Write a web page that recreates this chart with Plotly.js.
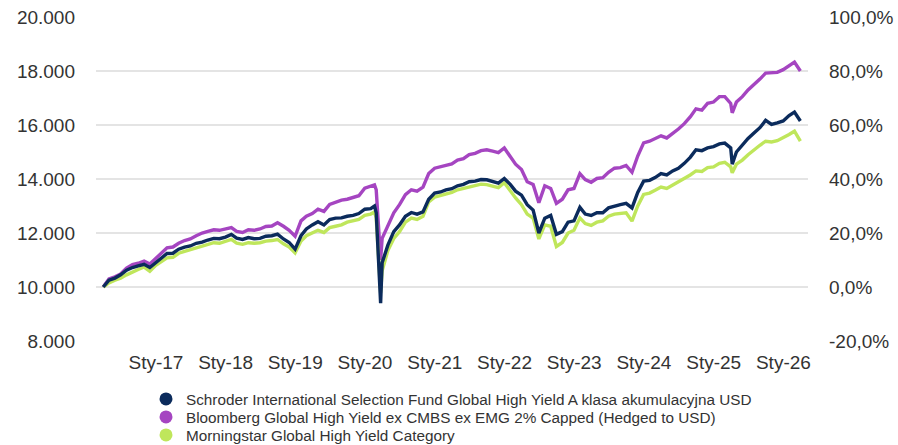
<!DOCTYPE html>
<html>
<head>
<meta charset="utf-8">
<script src="https://cdn.plot.ly/plotly-3.0.1.min.js"></script>
<style>
html,body{margin:0;padding:0;background:#ffffff;}
#chart{width:898px;height:445px;}
</style>
</head>
<body>
<div id="chart"></div>
<script>
// ---------- DATA ----------
const dates = [
  '2016-03-31','2016-04-30','2016-05-31','2016-06-30','2016-07-31','2016-08-31','2016-09-30','2016-10-31','2016-11-30','2016-12-31',
  '2017-01-31','2017-02-28','2017-03-31','2017-04-30','2017-05-31','2017-06-30','2017-07-31','2017-08-31','2017-09-30','2017-10-31','2017-11-30','2017-12-31',
  '2018-01-31','2018-02-28','2018-03-31','2018-04-30','2018-05-31','2018-06-30','2018-07-31','2018-08-31','2018-09-30','2018-10-31','2018-11-30','2018-12-31',
  '2019-01-31','2019-02-28','2019-03-31','2019-04-30','2019-05-31','2019-06-30','2019-07-31','2019-08-31','2019-09-30','2019-10-31','2019-11-30','2019-12-31',
  '2020-01-31','2020-02-20','2020-02-29','2020-03-23','2020-03-31','2020-04-30','2020-05-31','2020-06-30','2020-07-31','2020-08-31','2020-09-30','2020-10-31','2020-11-30','2020-12-31',
  '2021-01-31','2021-02-28','2021-03-31','2021-04-30','2021-05-31','2021-06-30','2021-07-31','2021-08-31','2021-09-30','2021-10-31','2021-11-30','2021-12-31',
  '2022-01-31','2022-02-28','2022-03-31','2022-04-30','2022-05-31','2022-06-30','2022-07-31','2022-08-31','2022-09-30','2022-10-31','2022-11-30','2022-12-31',
  '2023-01-31','2023-02-28','2023-03-31','2023-04-30','2023-05-31','2023-06-30','2023-07-31','2023-08-31','2023-09-30','2023-10-31','2023-11-30','2023-12-31',
  '2024-01-31','2024-02-29','2024-03-31','2024-04-30','2024-05-31','2024-06-30','2024-07-31','2024-08-31','2024-09-30','2024-10-31','2024-11-30','2024-12-31',
  '2025-01-31','2025-02-28','2025-03-31','2025-04-08','2025-04-30','2025-05-31','2025-06-30','2025-07-31','2025-08-31','2025-09-30','2025-10-31','2025-11-30','2025-12-31',
  '2026-01-31','2026-02-28','2026-03-31'
];

const schroder = [
  10000,10250,10330,10450,10620,10720,10780,10840,10720,10900,
  11050,11240,11250,11400,11480,11520,11620,11660,11740,11800,11790,11850,
  11950,11810,11760,11830,11790,11800,11880,11900,11960,11780,11650,11400,
  11900,12150,12300,12420,12300,12500,12550,12560,12620,12650,12720,12880,
  12900,13000,12750,9400,10900,11550,12050,12300,12620,12760,12700,12780,13250,13480,
  13520,13600,13640,13750,13800,13900,13920,13980,13970,13920,13850,14020,
  13800,13550,13400,13050,12850,12000,12550,12650,11950,12050,12400,12450,
  12950,12700,12650,12750,12750,12930,13000,13050,13100,12930,13500,13920,
  13950,14050,14200,14150,14300,14400,14580,14800,15080,15050,15150,15200,
  15300,15330,15150,14550,15000,15250,15500,15700,15900,16170,16020,16080,16150,
  16350,16480,16150
];

const bloomberg = [
  10000,10300,10380,10480,10700,10830,10880,10960,10850,11050,
  11250,11450,11480,11620,11720,11780,11900,12000,12060,12120,12100,12150,
  12200,12060,12020,12120,12100,12150,12240,12260,12380,12250,12100,11880,
  12450,12620,12720,12880,12800,13060,13150,13220,13250,13320,13380,13660,
  13720,13780,13600,11000,11800,12300,12750,13050,13420,13600,13550,13700,14200,14400,
  14450,14480,14560,14700,14750,14900,14950,15050,15080,15030,14980,15150,
  14850,14550,14350,13900,13800,13120,13750,13650,13100,13250,13600,13650,
  14200,13980,13880,14020,14050,14250,14400,14420,14500,14250,14850,15340,
  15400,15500,15600,15520,15680,15850,16050,16300,16600,16550,16800,16850,
  17050,17050,16800,16450,16850,17050,17300,17480,17700,17920,17930,17950,18050,
  18200,18330,18000
];

const morningstar = [
  10000,10150,10250,10330,10450,10560,10650,10740,10580,10800,
  10960,11080,11100,11250,11320,11380,11470,11510,11580,11640,11620,11680,
  11760,11620,11580,11640,11620,11640,11700,11720,11760,11600,11480,11260,
  11700,11900,12000,12100,12020,12200,12250,12300,12400,12440,12500,12650,
  12700,12780,12550,9790,10600,11350,11800,12050,12400,12550,12500,12620,13150,13330,
  13380,13450,13500,13600,13650,13730,13760,13810,13790,13730,13680,13860,
  13550,13300,13050,12700,12550,11780,12300,12250,11500,11650,12000,12100,
  12560,12350,12280,12400,12450,12620,12700,12720,12750,12440,13000,13430,
  13480,13580,13700,13650,13780,13880,14000,14150,14300,14280,14420,14450,
  14580,14620,14450,14230,14550,14700,14900,15090,15250,15400,15370,15420,15520,
  15650,15770,15400
];

const seriesNames = [
  'Schroder International Selection Fund Global High Yield A klasa akumulacyjna USD',
  'Bloomberg Global High Yield ex CMBS ex EMG 2% Capped (Hedged to USD)',
  'Morningstar Global High Yield Category'
];

const xTickDates = ['2017-01-01','2018-01-01','2019-01-01','2020-01-01','2021-01-01','2022-01-01','2023-01-01','2024-01-01','2025-01-01','2026-01-01'];
const xTickLabels = ['Sty-17','Sty-18','Sty-19','Sty-20','Sty-21','Sty-22','Sty-23','Sty-24','Sty-25','Sty-26'];
const leftTicks = [8000,10000,12000,14000,16000,18000,20000];
const leftTickLabels = ['8.000','10.000','12.000','14.000','16.000','18.000','20.000'];
const rightTicks = [-20,0,20,40,60,80,100];
const rightTickLabels = ['-20,0%','0,0%','20,0%','40,0%','60,0%','80,0%','100,0%'];
const startValue = 10000;

// ---------- STYLE ----------
const colors = ['#0b2b5c','#a545c1','#bfe65b'];
const seriesValues = [schroder, bloomberg, morningstar];
const drawOrder = [1, 2, 0];
const FONT = '"Liberation Sans", Arial, sans-serif';
const TXT = '#333333';
const legendIds = ['legend','legend2','legend3'];
const legendRowY = [399, 417, 435]; // pixel rows of the legend entries

const traces = [];
drawOrder.forEach(function(i){
  traces.push({
    type:'scatter', mode:'lines', x:dates, y:seriesValues[i],
    line:{color:colors[i], width:3.4}, showlegend:false, hoverinfo:'skip'
  });
});
// invisible copy on the percentage axis (drives the right-hand axis)
traces.push({
  type:'scatter', mode:'lines', x:dates,
  y:schroder.map(function(v){ return (v / startValue - 1) * 100; }),
  yaxis:'y2', line:{width:0, color:'rgba(0,0,0,0)'}, opacity:0,
  showlegend:false, hoverinfo:'skip'
});
seriesNames.forEach(function(n, i){
  traces.push({
    type:'scatter', mode:'markers', x:[null], y:[null], name:n,
    legend:legendIds[i],
    marker:{color:colors[i], size:13, symbol:'circle'}, showlegend:true, hoverinfo:'skip'
  });
});

const layout = {
  width:898, height:445,
  margin:{l:96, r:90, t:17, b:104, pad:0, autoexpand:false},
  paper_bgcolor:'#ffffff', plot_bgcolor:'#ffffff',
  font:{family:FONT, color:TXT, size:19},
  showlegend:true,
  xaxis:{
    type:'date', range:['2016-02-22','2026-05-10'],
    tickmode:'array', tickvals:xTickDates, ticktext:xTickLabels,
    showgrid:false, zeroline:false, showline:false, ticks:'',
    tickfont:{family:FONT, size:19, color:TXT}, ticklabelstandoff:8, fixedrange:true
  },
  yaxis:{
    range:[8000,20000], tickmode:'array', tickvals:leftTicks, ticktext:leftTickLabels,
    showgrid:true, gridcolor:'#e4e4e4', gridwidth:2, zeroline:false, showline:false, ticks:'',
    tickfont:{family:FONT, size:19, color:TXT}, ticklabelstandoff:20, fixedrange:true
  },
  yaxis2:{
    overlaying:'y', side:'right', anchor:'x',
    range:[-20,100], tickmode:'array', tickvals:rightTicks, ticktext:rightTickLabels,
    showgrid:false, zeroline:false, showline:false, ticks:'',
    tickfont:{family:FONT, size:19, color:TXT}, ticklabelstandoff:20, fixedrange:true
  }
};
legendIds.forEach(function(id, i){
  layout[id] = {
    xref:'container', yref:'container',
    x:146/898, xanchor:'left',
    y:1 - legendRowY[i]/445, yanchor:'middle',
    font:{family:FONT, size:15.3, color:TXT},
    bgcolor:'rgba(0,0,0,0)', borderwidth:0
  };
});

Plotly.newPlot('chart', traces, layout, {displayModeBar:false, staticPlot:true});
</script>
</body>
</html>
